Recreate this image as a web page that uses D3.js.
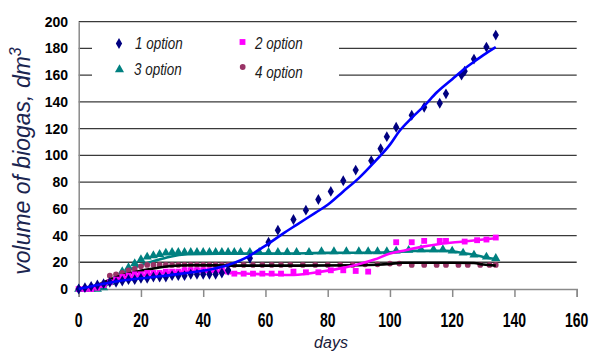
<!DOCTYPE html>
<html><head><meta charset="utf-8">
<script src="https://cdn.jsdelivr.net/npm/d3@7"></script>
<style>body{margin:0;background:#fff}svg{display:block}</style>
</head><body>
<svg id="c" width="592" height="354"></svg>
<script>
// ---- data ----
const xTicks = [0,20,40,60,80,100,120,140,160];
const yTicks = [0,20,40,60,80,100,120,140,160,180,200];
const seriesNames = ["1 option","2 option","3 option","4 option"];

// option 1 measured points [day, volume]
const opt1Pts = [[0,0],[2,1],[4,2],[6,3],[8,4],[10,5],[12,5],[14,6],[16,7],[18,7],[20,8],[22,8],[24,9],[26,9],[28,9],[30,10],[32,10],[34,10],[36,11],[38,11],[40,11],[42,11],[44,11],[46,12],[48,14],[55,23],[61,35],[64,44],[69,52],[73,59],[77,67],[81,73],[85,81],[89,89],[94,96],[97,105],[99,114],[102,121],[107,130],[111,136],[116,139],[118,146],[123,160],[124,163],[127,172],[131,181],[134,190]];
// option 1 trend
const opt1Trend = [[0,0],[6,3],[13,6],[24,9],[33,11.5],[43,15],[48,18],[55,25],[58,29.5],[61,34],[66,42],[70,48],[76,57],[80,63],[85,73],[90,83],[95,95],[100,108],[103,118],[107,128],[111,137],[115,147],[120,157],[123,163],[127,170],[130,175],[134,181]];

const opt2Pts = [[0,0],[2,0],[4,0],[6,1],[8,3],[10,5],[12,7],[14,9],[16,10],[18,11],[20,11],[22,12],[24,12],[26,12],[28,13],[30,13],[32,13],[34,14],[36,14],[38,14],[40,14],[42,14],[44,14],[46,14],[48,13],[50,11.5],[53,11.5],[56,11.5],[59,11.5],[62,11.5],[65,11.5],[69,13],[73,12.5],[77,12.5],[81,14],[85,14],[89,13.5],[93,13],[102,35],[107,35],[111,36],[116,36],[118,36],[124,35.5],[128,36.5],[131,37],[134,38.5]];
const opt2Trend = [[0,0],[5,1],[10,5],[15,8.5],[20,10],[25,11.5],[30,12.5],[35,13],[45,13],[50,12],[60,11],[68,10.5],[75,12],[82,14.5],[89,18],[95,22],[100,26.5],[105,29],[110,31.5],[116,33.7],[123,35.4],[130,37],[134,38]];

const opt3Pts = [[0,0],[2,0],[4,0],[6,0],[8,1],[10,5],[12,9],[14,13],[16,16],[18,19],[20,22],[22,24],[24,25],[26,26],[28,27],[30,27.5],[32,27.5],[34,27.5],[36,27.5],[38,27.5],[40,27.5],[42,27.5],[44,27.5],[46,27.5],[48,27.5],[50,27.5],[52,27.5],[55,27.5],[58,27.5],[61,27.5],[64,27.5],[67,27.5],[70,27.5],[74,27.5],[78,28],[82,28],[86,28],[90,28],[93,28],[96,28],[99,28],[102,28.5],[106,29],[110,29.5],[114,29.5],[117,29.5],[120,28.5],[123.5,27],[127,25.5],[131,24],[134,23]];
const opt3Trend = [[0,0],[7,0],[10,5],[15,13],[19,17],[25,21.5],[29,24],[35,26],[45,26.5],[60,26.5],[80,27],[100,27.5],[108,28.5],[118,28.5],[122,27.5],[126,26],[130,24],[134,22.5]];

const opt4Pts = [[0,0],[2,0],[4,0],[6,1],[8,3],[10,10],[12,11],[14,12],[16,14],[18,15],[20,17],[22,18],[24,18],[26,18],[28,18],[30,18],[32,18],[34,18],[36,18],[38,18],[40,18],[42,18],[44,18],[46,18],[48,18],[50,18],[53,18],[56,18],[59,18],[62,18],[65,18],[68,18],[72,18],[76,18],[80,18],[84,18],[88,18],[92,18.5],[96,18.5],[100,19],[103,19],[107,18],[111,18],[115,18],[118,18],[122,18],[125,18],[129,18],[132,18],[134,18]];
const opt4Trend = [[0,0],[2,0],[5,2],[10,7],[16,11.5],[22,14.5],[29,17],[36,17.8],[50,17.5],[70,17.5],[90,17.8],[96,18.2],[100,18.8],[104,19.6],[120,19.6],[127,19.4],[130,18.3],[134,17.5]];

// ---- drawing ----
const svg = d3.select("#c");
const L = 78.7, R = 576.7, T = 21.7, B = 289;
const x = d3.scaleLinear().domain([0,160]).range([L,R]);
const y = d3.scaleLinear().domain([0,200]).range([B,T]);

// gridlines
svg.append("g").selectAll("line").data(yTicks.filter(v=>v>0)).join("line")
  .attr("x1",L).attr("x2",R).attr("y1",d=>y(d)).attr("y2",d=>y(d))
  .attr("stroke","#3a3a3a").attr("stroke-width",1.3);

// legend background (covers gridlines)
svg.append("rect").attr("x",92).attr("y",29).attr("width",247).attr("height",60).attr("fill","#fff");

// axes
const xAxis = d3.axisBottom(x).tickValues(xTicks).tickSize(8).tickFormat("");
const gx = svg.append("g").attr("transform",`translate(0,${B})`).call(xAxis);
gx.select(".domain").attr("stroke","#8a8a8a").attr("stroke-width",1.5);
gx.selectAll(".tick line").attr("stroke","#8a8a8a").attr("stroke-width",1.5);
const yAxis = d3.axisLeft(y).tickValues(yTicks).tickSize(0).tickFormat("");
const gy = svg.append("g").attr("transform",`translate(${L},0)`).call(yAxis);
gy.select(".domain").attr("stroke","#8a8a8a").attr("stroke-width",1.5);

// tick labels
svg.append("g").selectAll("text").data(yTicks).join("text")
  .attr("x",68).attr("y",d=>y(d)+5)
  .attr("text-anchor","end")
  .style("font","bold 14px 'Liberation Sans', Arial, sans-serif")
  .text(d=>d);
svg.append("g").selectAll("text").data(xTicks).join("text")
  .attr("transform",d=>`translate(${x(d)},326.5) scale(1,1.38)`)
  .attr("text-anchor","middle")
  .style("font","bold 14px 'Liberation Sans', Arial, sans-serif")
  .text(d=>d);

// axis titles
svg.append("text").attr("x",331).attr("y",348).attr("text-anchor","middle")
  .style("font","italic 16px 'Liberation Sans', Arial, sans-serif").attr("fill","#1a1a3a").text("days");
const yt = svg.append("text").attr("transform","translate(30,161) rotate(-90)")
  .attr("text-anchor","middle")
  .style("font","italic 23px 'Liberation Sans', Arial, sans-serif").attr("fill","#1b2550");
yt.append("tspan").text("volume of biogas, dm");
yt.append("tspan").attr("dy",-9).style("font-size","16px").text("3");

const line = d3.line().x(d=>x(d[0])).y(d=>y(d[1])).curve(d3.curveMonotoneX);

const sym = {
  diamond: d3.symbol().type(d3.symbolDiamond).size(34),
  square: d3.symbol().type(d3.symbolSquare).size(34),
  triangle: d3.symbol().type(d3.symbolTriangle).size(36),
  circle: d3.symbol().type(d3.symbolCircle).size(26)
};
function pts(data, s, color){
  svg.append("g").selectAll("path").data(data).join("path")
    .attr("transform",d=>`translate(${x(d[0])},${y(d[1])})`)
    .attr("d",sym[s]).attr("fill",color);
}
function trend(data, color){
  svg.append("path").datum(data).attr("d",line).attr("fill","none")
    .attr("stroke",color).attr("stroke-width",2.6).attr("stroke-linejoin","round");
}

pts(opt3Pts,"triangle","#008080");
trend(opt3Trend,"#008080");
pts(opt4Pts,"circle","#993366");
trend(opt4Trend,"#000000");
pts(opt2Pts,"square","#ff00ff");
trend(opt2Trend,"#ff00ff");
pts(opt1Pts,"diamond","#000080");
trend(opt1Trend,"#0000ff");

// legend
const leg = [
  {name:seriesNames[0], s:"diamond", c:"#000080", mx:119, my:43.5, tx:135, ty:49},
  {name:seriesNames[1], s:"square", c:"#ff00ff", mx:242.5, my:42, tx:255, ty:49},
  {name:seriesNames[2], s:"triangle", c:"#008080", mx:119.5, my:69.5, tx:134, ty:75},
  {name:seriesNames[3], s:"circle", c:"#993366", mx:242.7, my:67, tx:255, ty:78}
];
const lg = svg.append("g");
leg.forEach(d=>{
  lg.append("path").attr("transform",`translate(${d.mx},${d.my})`).attr("d",sym[d.s]).attr("fill",d.c);
  lg.append("text").attr("transform",`translate(${d.tx},${d.ty}) scale(0.84,1.05)`)
    .style("font","italic 16px 'Liberation Sans', Arial, sans-serif")
    .attr("fill","#1a1a1a").text(d.name);
});
</script>
</body></html>
